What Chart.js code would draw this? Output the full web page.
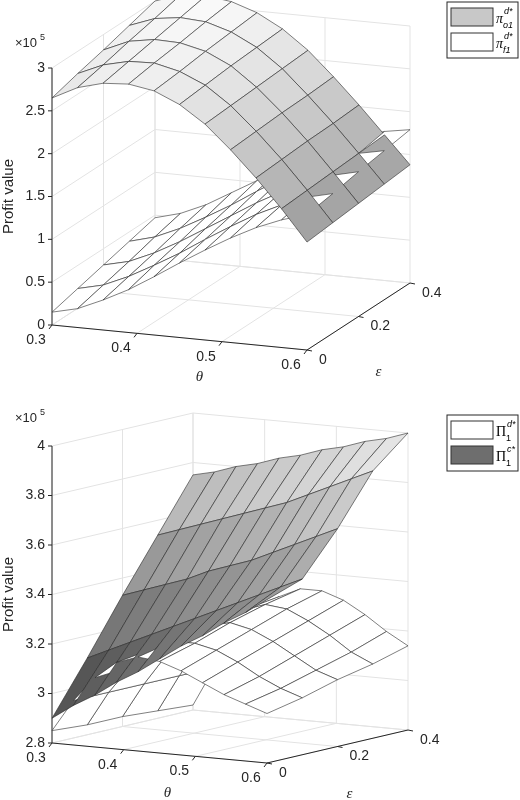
<!DOCTYPE html>
<html>
<head>
<meta charset="utf-8">
<script src="https://cdn.jsdelivr.net/npm/chart.js@4"></script>
<style>
  body { margin: 0; background: #fff; }
  canvas { display: block; }
</style>
</head>
<body>
<canvas id="topChart" width="520" height="400"></canvas>
<canvas id="bottomChart" width="520" height="400"></canvas>
<script>
// grid of the surfaces
var THETA = [0.30, 0.33, 0.36, 0.39, 0.42, 0.45, 0.48, 0.51, 0.54, 0.57, 0.60];
var EPSILON = [0, 0.1, 0.2, 0.3, 0.4];

// top panel, values in units of 1e5 (rows = epsilon, cols = theta)
var PI_O1 = [
    [2.65, 2.80, 2.88, 2.90, 2.85, 2.72, 2.52, 2.25, 1.95, 1.62, 1.26],
    [2.74, 2.87, 2.94, 2.95, 2.88, 2.75, 2.54, 2.27, 1.97, 1.64, 1.29],
    [2.82, 2.95, 3.00, 2.99, 2.92, 2.78, 2.56, 2.29, 1.99, 1.66, 1.32],
    [2.91, 3.02, 3.06, 3.04, 2.95, 2.80, 2.58, 2.30, 2.00, 1.68, 1.35],
    [3.00, 3.10, 3.12, 3.08, 2.98, 2.82, 2.60, 2.32, 2.02, 1.70, 1.38]
];
var PI_F1 = [
    [0.15, 0.22, 0.35, 0.50, 0.68, 0.87, 1.05, 1.22, 1.37, 1.49, 1.58],
    [0.23, 0.30, 0.43, 0.59, 0.76, 0.95, 1.13, 1.30, 1.44, 1.56, 1.63],
    [0.31, 0.38, 0.51, 0.67, 0.85, 1.03, 1.21, 1.37, 1.51, 1.62, 1.69],
    [0.39, 0.47, 0.60, 0.76, 0.93, 1.12, 1.30, 1.45, 1.58, 1.68, 1.74],
    [0.47, 0.55, 0.68, 0.85, 1.02, 1.20, 1.38, 1.53, 1.65, 1.74, 1.79]
];
// bottom panel
var PI_D = [
    [2.85, 2.98, 3.08, 3.15, 3.18, 3.17, 3.14, 3.10, 3.06, 3.03, 3.00],
    [2.84, 2.98, 3.09, 3.17, 3.21, 3.21, 3.19, 3.15, 3.10, 3.06, 3.03],
    [2.84, 2.98, 3.10, 3.19, 3.24, 3.26, 3.24, 3.20, 3.15, 3.10, 3.07],
    [2.83, 2.98, 3.11, 3.20, 3.27, 3.30, 3.29, 3.25, 3.20, 3.14, 3.10],
    [2.82, 2.98, 3.12, 3.22, 3.29, 3.33, 3.33, 3.30, 3.25, 3.19, 3.14]
];
var PI_C = [
    [2.90, 2.96, 3.01, 3.07, 3.12, 3.18, 3.24, 3.29, 3.35, 3.40, 3.46],
    [3.11, 3.15, 3.19, 3.23, 3.27, 3.31, 3.35, 3.39, 3.43, 3.47, 3.51],
    [3.33, 3.36, 3.39, 3.42, 3.46, 3.49, 3.52, 3.56, 3.60, 3.64, 3.68],
    [3.54, 3.57, 3.60, 3.63, 3.66, 3.69, 3.72, 3.76, 3.80, 3.84, 3.88],
    [3.75, 3.77, 3.80, 3.82, 3.85, 3.87, 3.90, 3.92, 3.95, 3.97, 4.00]
];

var THETA_TICKS = [0.3, 0.4, 0.5, 0.6];
var EPS_TICKS = [0, 0.2, 0.4];
var TOP_Z_TICKS = [0, 0.5, 1, 1.5, 2, 2.5, 3];
var BOT_Z_TICKS = [2.8, 3, 3.2, 3.4, 3.6, 3.8, 4];

var FONT = '"Liberation Sans", Arial, sans-serif';
var SERIF = '"Liberation Serif", "DejaVu Serif", serif';

// draws a 3D box + surfaces using the chart's x/y scales for the projected points
var surfacePlugin = {
    id: 'surface3d',
    afterDraw(chart) {
        var o = chart.options.plugins.surface3d;
        var ctx = chart.ctx;
        var xs = chart.scales.x, ys = chart.scales.y;
        function P(th, ep, z) {
            var u = (th - 0.3) / 0.3, v = ep / 0.4, w = (z - o.z0) / (o.z1 - o.z0);
            var px = o.ox + u * o.ax + v * o.bx;
            var py = o.oy + u * o.ay + v * o.by - w * o.H;
            return [xs.getPixelForValue(px), ys.getPixelForValue(py)];
        }
        function line(a, b, col, lw) {
            ctx.strokeStyle = col; ctx.lineWidth = lw || 1;
            ctx.beginPath(); ctx.moveTo(a[0], a[1]); ctx.lineTo(b[0], b[1]); ctx.stroke();
        }
        ctx.save();
        var grid = '#e3e3e3';
        // back walls and floor grid
        o.zTicks.forEach(z => {
            line(P(0.3, 0, z), P(0.3, 0.4, z), grid);
            line(P(0.3, 0.4, z), P(0.6, 0.4, z), grid);
        });
        THETA_TICKS.forEach(t => {
            line(P(t, 0.4, o.z0), P(t, 0.4, o.z1), grid);
            line(P(t, 0, o.z0), P(t, 0.4, o.z0), grid);
        });
        EPS_TICKS.forEach(e => {
            line(P(0.3, e, o.z0), P(0.3, e, o.z1), grid);
            line(P(0.3, e, o.z0), P(0.6, e, o.z0), grid);
        });
        // axis lines + tick marks
        var ax = '#262626';
        line(P(0.3, 0, o.z0), P(0.3, 0, o.z1), ax);
        line(P(0.3, 0, o.z0), P(0.6, 0, o.z0), ax);
        line(P(0.6, 0, o.z0), P(0.6, 0.4, o.z0), ax);
        o.zTicks.forEach(z => { var p = P(0.3, 0, z); line(p, [p[0] - 4, p[1]], ax); });
        THETA_TICKS.forEach(t => { var p = P(t, 0, o.z0); line(p, [p[0] - 3, p[1] + 4], ax); });
        EPS_TICKS.forEach(e => { var p = P(0.6, e, o.z0); line(p, [p[0] + 5, p[1] + 1], ax); });

        // surface quads, painter's order
        var quads = [];
        o.surfaces.forEach(s => {
            for (var i = 0; i < EPSILON.length - 1; i++) {
                for (var j = 0; j < THETA.length - 1; j++) {
                    var c = [[i, j], [i, j + 1], [i + 1, j + 1], [i + 1, j]];
                    var pts = c.map(k => P(THETA[k[1]], EPSILON[k[0]], s.z[k[0]][k[1]]));
                    var zm = c.reduce((a, k) => a + s.z[k[0]][k[1]], 0) / 4;
                    var depth = (THETA[j] + THETA[j + 1]) / 2 / 0.3 + (0.4 - (EPSILON[i] + EPSILON[i + 1]) / 2) / 0.4;
                    quads.push({ pts: pts, zm: zm, depth: depth, s: s });
                }
            }
        });
        quads.sort((a, b) => a.depth - b.depth);
        quads.forEach(q => {
            var p = q.pts;
            var fill = '#ffffff';
            if (q.s.gray) {
                var w = (q.zm - o.z0) / (o.z1 - o.z0);
                var g = Math.max(0, Math.min(255, Math.round(q.s.g0 + w * q.s.g1)));
                fill = 'rgb(' + g + ',' + g + ',' + g + ')';
            }
            ctx.fillStyle = fill;
            ctx.strokeStyle = '#2a2a2a';
            ctx.lineWidth = 0.6;
            ctx.beginPath();
            ctx.moveTo(p[0][0], p[0][1]);
            for (var k = 1; k < 4; k++) ctx.lineTo(p[k][0], p[k][1]);
            ctx.closePath();
            ctx.fill(); ctx.stroke();
        });

        // tick labels
        ctx.fillStyle = '#262626';
        ctx.font = '14px ' + FONT;
        ctx.textAlign = 'right'; ctx.textBaseline = 'middle';
        o.zTicks.forEach(z => {
            var p = P(0.3, 0, z);
            ctx.fillText(String(z), p[0] - 7, p[1]);
        });
        ctx.textAlign = 'center'; ctx.textBaseline = 'top';
        THETA_TICKS.forEach(t => {
            var p = P(t, 0, o.z0);
            ctx.fillText(String(t), p[0] - 16, p[1] + 8);
        });
        ctx.textAlign = 'left'; ctx.textBaseline = 'middle';
        EPS_TICKS.forEach(e => {
            var p = P(0.6, e, o.z0);
            ctx.fillText(String(e), p[0] + 12, p[1] + 10);
        });
        // axis titles
        ctx.font = 'italic 15px ' + SERIF;
        ctx.textAlign = 'center';
        var pt = P(0.45, 0, o.z0);
        ctx.fillText('θ', pt[0] + o.thOff[0], pt[1] + o.thOff[1]);
        var pe = P(0.6, 0.2, o.z0);
        ctx.fillText('ε', pe[0] + o.epOff[0], pe[1] + o.epOff[1]);
        ctx.font = '15px ' + FONT;
        ctx.save();
        var pz = P(0.3, 0, (o.z0 + o.z1) / 2);
        ctx.translate(9, pz[1]);
        ctx.rotate(-Math.PI / 2);
        ctx.textBaseline = 'middle';
        ctx.fillText('Profit value', 0, 0);
        ctx.restore();
        ctx.font = '13px ' + FONT;
        ctx.textAlign = 'left'; ctx.textBaseline = 'alphabetic';
        ctx.fillText('×10', 15, o.expY);
        ctx.font = '9px ' + FONT;
        ctx.fillText('5', 40, o.expY - 7);

        // legend
        var lx = 447, ly = o.legendY, lw = 71, lh = 56;
        ctx.fillStyle = '#fff'; ctx.fillRect(lx, ly, lw, lh);
        ctx.strokeStyle = '#262626'; ctx.lineWidth = 1;
        ctx.strokeRect(lx, ly, lw, lh);
        o.legend.forEach((it, n) => {
            var y = ly + 6 + n * 25;
            ctx.fillStyle = it.color;
            ctx.fillRect(lx + 4, y, 42, 18);
            ctx.strokeStyle = '#333';
            ctx.strokeRect(lx + 4, y, 42, 18);
            ctx.fillStyle = '#000';
            ctx.font = it.capital ? '14px ' + SERIF : 'italic 14px ' + SERIF;
            ctx.fillText(it.sym, lx + 49, y + 15);
            var wsym = ctx.measureText(it.sym).width;
            ctx.font = (it.capital ? '' : 'italic ') + '9px ' + FONT;
            ctx.fillText(it.sub, lx + 49 + wsym, y + 20);
            ctx.font = 'italic 9px ' + FONT;
            ctx.fillText(it.sup, lx + 50 + wsym, y + 6);
        });
        ctx.restore();
    }
};

function makeChart(id, opts) {
    return new Chart(document.getElementById(id), {
        type: 'scatter',
        data: { datasets: [{ data: [], pointRadius: 0 }] },
        options: {
            responsive: false,
            animation: false,
            layout: { padding: 0 },
            scales: {
                x: { type: 'linear', min: 0, max: 520, display: false },
                y: { type: 'linear', min: 0, max: 400, reverse: true, display: false }
            },
            plugins: { legend: { display: false }, tooltip: { enabled: false }, surface3d: opts }
        },
        plugins: [surfacePlugin]
    });
}

makeChart('topChart', {
    z0: 0, z1: 3, zTicks: TOP_Z_TICKS,
    ox: 52, oy: 325, ax: 255, ay: 25, bx: 103, by: -67, H: 257,
    expY: 47, legendY: 2, thOff: [20, 40], epOff: [20, 56],
    surfaces: [
        { z: PI_F1, gray: false },
        { z: PI_O1, gray: true, g0: 87, g1: 158 }
    ],
    legend: [
        { color: '#c8c8c8', sym: 'π', sub: 'o1', sup: 'd*' },
        { color: '#ffffff', sym: 'π', sub: 'f1', sup: 'd*' }
    ]
});

makeChart('bottomChart', {
    z0: 2.8, z1: 4, zTicks: BOT_Z_TICKS,
    ox: 52, oy: 343, ax: 215, ay: 20, bx: 141, by: -33, H: 297,
    expY: 22, legendY: 15, thOff: [8, 40], epOff: [12, 48],
    surfaces: [
        { z: PI_D, gray: false },
        { z: PI_C, gray: true, g0: 50, g1: 190 }
    ],
    legend: [
        { color: '#ffffff', sym: 'Π', sub: '1', sup: 'd*', capital: true },
        { color: '#6e6e6e', sym: 'Π', sub: '1', sup: 'c*', capital: true }
    ]
});
</script>
</body>
</html>
